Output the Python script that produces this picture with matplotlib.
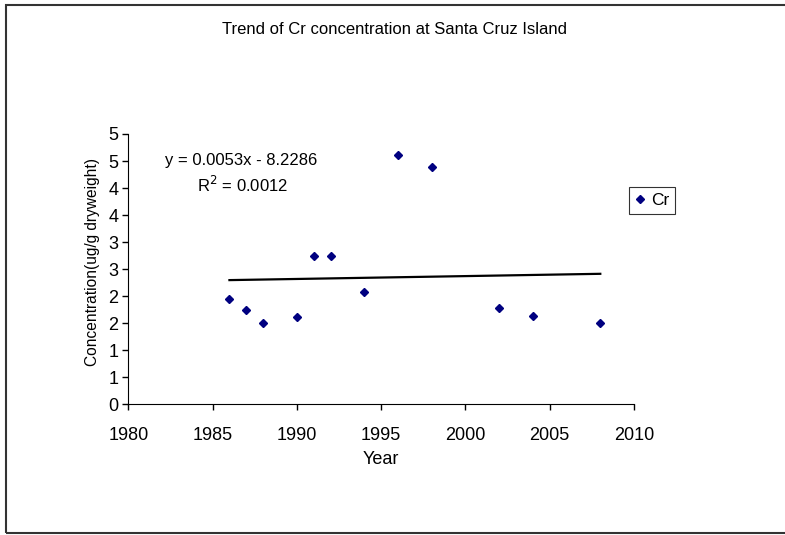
import numpy as np
import matplotlib.pyplot as plt
from matplotlib.patches import Rectangle

plt.rcParams['font.family'] = ['Liberation Sans', 'DejaVu Sans']

# data
years = [1986, 1987, 1988, 1990, 1991, 1992, 1994, 1996, 1998, 2002, 2004, 2008]
cr = [1.94, 1.75, 1.50, 1.62, 2.74, 2.74, 2.08, 4.61, 4.39, 1.78, 1.64, 1.50]

# trend line as given on the chart
slope = 0.0053
intercept = -8.2286
r2 = 0.0012

yticks = [0, 0.5, 1, 1.5, 2, 2.5, 3, 3.5, 4, 4.5, 5]
ytick_labels = ['0', '1', '1', '2', '2', '3', '3', '4', '4', '5', '5']
xticks = [1980, 1985, 1990, 1995, 2000, 2005, 2010]

W, H = 785, 535
ax_w = 634 - 128.3
ax_h = 404.3 - 134
fig = plt.figure(figsize=(W / 100, H / 100), dpi=100)
ax = fig.add_axes([128.3 / W, 1 - 404.3 / H, ax_w / W, ax_h / H])

tx = np.array([years[0], years[-1]])
ax.plot(tx, slope * tx + intercept, color='black', lw=1.6, zorder=2)
ax.plot(years, cr, ls='none', marker='D', ms=4.2, color='#000080',
        label='Cr', zorder=3)

ax.set_xlim(1980, 2010)
ax.set_ylim(0, 5)
ax.set_xticks(xticks)
ax.set_yticks(yticks)
ax.set_yticklabels(ytick_labels)
for s in ['top', 'right']:
    ax.spines[s].set_visible(False)
ax.tick_params(direction='out', length=4, width=1, labelsize=13, pad=3)
ax.tick_params(axis='x', pad=12)

ax.set_xlabel('Year', fontsize=13)
ax.xaxis.set_label_coords(0.5, -(459 - 404.3) / ax_h)
ax.xaxis.label.set_va('center')
ax.set_ylabel('Concentration(ug/g dryweight)', fontsize=11.2)
ax.yaxis.set_label_coords(-(128.3 - 92) / ax_w, (404.3 - 262) / ax_h)
ax.yaxis.label.set_va('center')

ax.text(1986.72, 4.51, 'y = 0.0053x - 8.2286', ha='center', va='center', fontsize=12)
ax.text(1986.75, 4.05, r'R$^2$ = 0.0012', ha='center', va='center', fontsize=12)

fig.text(395 / W, 1 - 30 / H, 'Trend of Cr concentration at Santa Cruz Island',
         ha='center', va='center', fontsize=12)

leg = ax.legend(loc='upper left', bbox_to_anchor=(629 / W, 1 - 186.7 / H),
                bbox_transform=fig.transFigure, fontsize=12.5, frameon=True,
                fancybox=False, handlelength=0.6, handletextpad=0.3,
                borderpad=0.35, borderaxespad=0)
leg.get_frame().set_edgecolor('black')
leg.get_frame().set_linewidth(0.8)

fig.patches.append(Rectangle((5.5 / W, 1 - 533 / H), 1.0, (533 - 5) / H,
                             transform=fig.transFigure, fill=False,
                             edgecolor='#333333', lw=1.5))

fig.savefig('out.png', dpi=100)
